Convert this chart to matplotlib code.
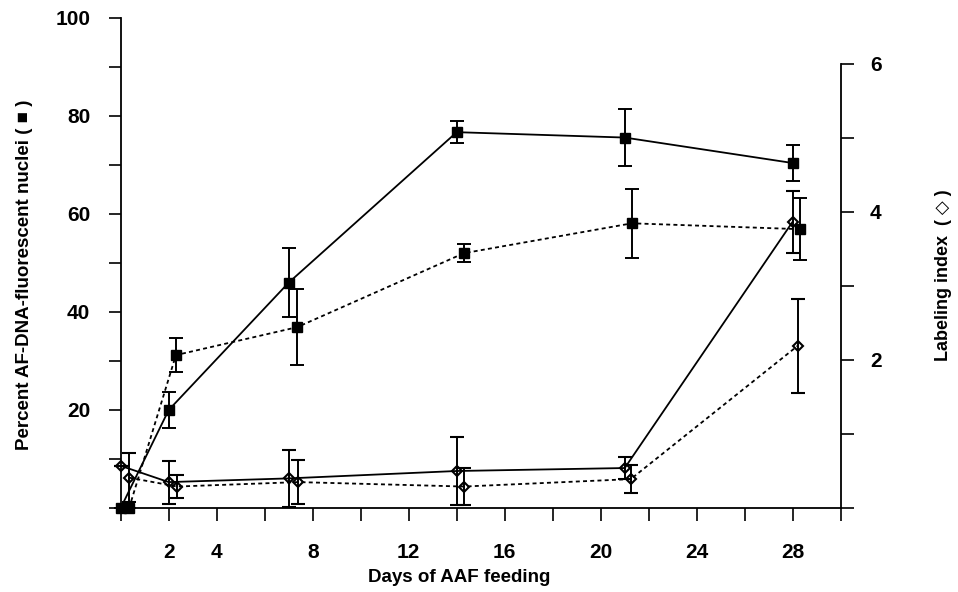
import numpy as np
import matplotlib
matplotlib.use("Agg")
import matplotlib.pyplot as plt

plt.rcParams['font.family'] = ['Liberation Sans', 'DejaVu Sans']
plt.rcParams['font.weight'] = 'bold'

# AF-DNA fluorescent nuclei (left axis), solid and dotted series
days_a = [0, 2, 7, 14, 21, 28]
af_a = [0, 20, 46, 76.7, 75.6, 70.4]
af_a_err = [0, 3.6, 7.0, 2.3, 5.8, 3.6]

days_b = [0.35, 2.3, 7.35, 14.3, 21.3, 28.3]
af_b = [0, 31.2, 36.9, 52.0, 58.1, 56.9]
af_b_err = [0, 3.5, 7.8, 1.8, 7.0, 6.3]

# labeling index (right axis)
days_c = [0, 2, 7, 14, 21, 28]
li_c = [0.57, 0.35, 0.40, 0.50, 0.54, 3.87]
li_c_err = [0, 0.29, 0.38, 0.46, 0.15, 0.42]

days_d = [0.35, 2.35, 7.4, 14.3, 21.25, 28.2]
li_d = [0.41, 0.29, 0.35, 0.29, 0.39, 2.19]
li_d_err = [0.33, 0.16, 0.30, 0.25, 0.19, 0.63]

x_ticks = np.arange(0, 31, 2)
x_labels = ['' if t not in (2, 4, 8, 12, 16, 20, 24, 28) else str(t) for t in x_ticks]

fig = plt.figure(figsize=(9.58, 5.92), dpi=100)
ax = fig.add_axes([0.126, 0.1419, 0.7516, 0.8277])
ax2 = ax.twinx()

dot = (0, (2.2, 1.8))
ebkw = dict(ecolor='black', elinewidth=1.4, capsize=5, capthick=1.4, clip_on=False)

ax.errorbar(days_a, af_a, yerr=af_a_err, color='black', lw=1.3, ls='-',
            marker='s', ms=7.5, mfc='black', mec='black', **ebkw)
ax.errorbar(days_b, af_b, yerr=af_b_err, color='black', lw=1.3, ls=dot,
            marker='s', ms=7.5, mfc='black', mec='black', **ebkw)

ax2.errorbar(days_c, li_c, yerr=li_c_err, color='black', lw=1.3, ls='-',
             marker='D', ms=5, mfc='none', mec='black', mew=1.5, **ebkw)
ax2.errorbar(days_d, li_d, yerr=li_d_err, color='black', lw=1.3, ls=dot,
             marker='D', ms=5, mfc='none', mec='black', mew=1.5, **ebkw)

ax.set_xlim(0, 30)
ax.set_ylim(0, 100)
ax2.set_ylim(0, 6 * 490 / 444)

ax.set_xticks(x_ticks)
ax.set_xticklabels(x_labels)
ax.set_yticks([0, 20, 40, 60, 80, 100])
ax.set_yticklabels(['', '20', '40', '60', '80', '100'])
ax.set_yticks(np.arange(10, 100, 20), minor=True)
ax2.set_yticks([0, 2, 4, 6])
ax2.set_yticklabels(['', '2', '4', '6'])
ax2.set_yticks([1, 3, 5], minor=True)

for a in (ax, ax2):
    a.tick_params(which='both', direction='out', length=9, width=1.2,
                  labelsize=15, pad=13)
    for s in a.spines.values():
        s.set_linewidth(1.3)
    a.spines['top'].set_visible(False)

ax.spines['right'].set_visible(False)
ax2.spines['left'].set_visible(False)
ax2.spines['bottom'].set_visible(False)
ax2.spines['right'].set_bounds(0, 6)
ax.tick_params(axis='x', pad=16)
ax2.tick_params(axis='y', pad=12)

ax.set_xlabel('Days of AAF feeding', fontsize=13.5, fontweight='bold')
ax.xaxis.set_label_coords(0.47, -0.124)
ax.set_ylabel('Percent AF-DNA-fluorescent nuclei ( \u25a0 )', fontsize=13.5,
              fontweight='bold')
ax.yaxis.set_label_coords(-0.122, 0.475)
ax2.set_ylabel('Labeling index  ( \u25c7 )', fontsize=13, fontweight='bold',
               rotation=90)
ax2.yaxis.set_label_coords(1.131, 0.475)

fig.savefig('out.png', dpi=100)
